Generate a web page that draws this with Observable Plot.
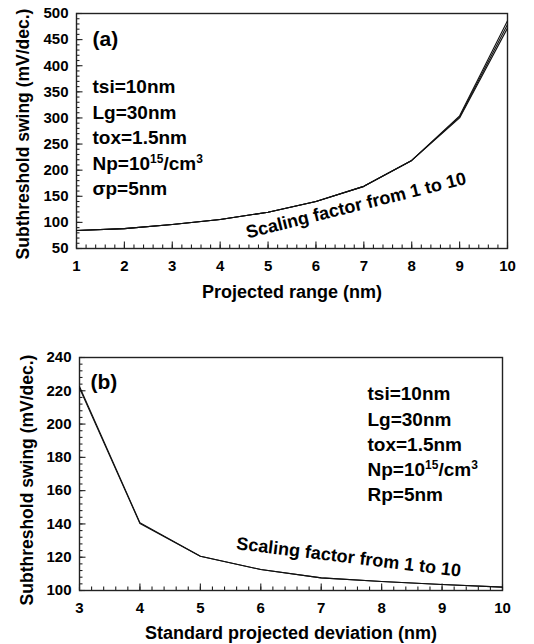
<!DOCTYPE html>
<html><head><meta charset="utf-8">
<script src="https://cdn.jsdelivr.net/npm/d3@7"></script>
<script src="https://cdn.jsdelivr.net/npm/@observablehq/plot@0.6"></script>
<style>
body{margin:0;background:#fff;}
#chart svg{display:block;}
</style></head><body><div id="chart"></div>
<script>
// ---------- data ----------
const rangeX = [1, 2, 3, 4, 5, 6, 7, 8, 9, 10];
const swingA1 = [84.5, 88, 96, 105.5, 119.5, 140, 169, 218.6, 304, 486];
const swingA2 = [84.5, 88, 96, 105.5, 119.5, 140, 169, 218.6, 302, 479];
const swingA3 = [84.5, 88, 96, 105.5, 119.5, 140, 169, 218.6, 300, 472];

const devX = [3, 4, 5, 6, 7, 8, 9, 10];
const swingB1 = [222.6, 140.7, 120.6, 112.6, 107.6, 105.4, 103.6, 102];
const swingB2 = [221.6, 140.3, 120.6, 112.6, 107.6, 105.4, 103.6, 102];

const ticksAX = [1, 2, 3, 4, 5, 6, 7, 8, 9, 10];
const ticksAY = [50, 100, 150, 200, 250, 300, 350, 400, 450, 500];
const ticksBX = [3, 4, 5, 6, 7, 8, 9, 10];
const ticksBY = [100, 120, 140, 160, 180, 200, 220, 240];

const paramsA = ["tsi=10nm", "Lg=30nm", "tox=1.5nm", "Np=10^15/cm^3", "σp=5nm"];
const paramsB = ["tsi=10nm", "Lg=30nm", "tox=1.5nm", "Np=10^15/cm^3", "Rp=5nm"];
const labelA = "(a)", labelB = "(b)";
const scalingLabel = "Scaling factor from 1 to 10";
const titleXA = "Projected range (nm)";
const titleXB = "Standard projected deviation (nm)";
const titleY = "Subthreshold swing (mV/dec.)";

// ---------- helpers ----------
const font = "'Liberation Sans', Arial, Helvetica, sans-serif";
const minorA_X = d3.range(1, 10.0001, 0.2);
const minorA_Y = d3.range(50, 500.0001, 10);
const minorB_X = d3.range(3, 10.0001, 0.2);
const minorB_Y = d3.range(100, 240.0001, 4);

const dataA = [swingA1, swingA2, swingA3].flatMap((s, k) => rangeX.map((x, i) => ({x, y: s[i], s: k})));
const dataB = [swingB1, swingB2].flatMap((s, k) => devX.map((x, i) => ({x, y: s[i], s: k})));

// inward tick marks drawn as short rules; lengths converted from pixels to data units
function ticks(xDom, yDom, wPx, hPx, tx, ty, mx, my) {
  const ux = (xDom[1] - xDom[0]) / wPx, uy = (yDom[1] - yDom[0]) / hPx;
  const st = {stroke: "#222", strokeWidth: 1.1};
  return [
    Plot.ruleX(mx, {x: d => d, y1: yDom[0], y2: yDom[0] + 3.5 * uy, ...st}),
    Plot.ruleX(tx, {x: d => d, y1: yDom[0], y2: yDom[0] + 6.5 * uy, ...st}),
    Plot.ruleY(my, {y: d => d, x1: xDom[0], x2: xDom[0] + 3.5 * ux, ...st}),
    Plot.ruleY(ty, {y: d => d, x1: xDom[0], x2: xDom[0] + 6.5 * ux, ...st}),
    Plot.axisX({ticks: tx, tickSize: 0, tickPadding: 12, label: null, tickFormat: d => String(d), fill: "black", fontSize: 15, fontWeight: "bold"}),
    Plot.axisY({ticks: ty, tickSize: 0, tickPadding: 8, label: null, tickFormat: d => String(d), fill: "black", fontSize: 15, fontWeight: "bold"})
  ];
}

function params(list, dx, dy0, step) {
  return list.map((t, i) => Plot.text([t], {
    text: d => d, frameAnchor: "top-left", dx, dy: dy0 + i * step,
    textAnchor: "start", lineAnchor: "middle", fontSize: 19, fontWeight: "bold", fill: "black"
  }));
}

function superscripts(svg) {
  d3.select(svg).selectAll("text").each(function () {
    const txt = this.textContent;
    if (txt.includes("^")) {
      const parts = txt.split(/\^(\d+)/);
      const t = d3.select(this);
      this.textContent = "";
      let raised = false;
      parts.forEach((p, i) => {
        if (p === "") { return; }
        if (i % 2 === 1) {
          t.append("tspan").attr("dy", -7).attr("font-size", 12).text(p);
          raised = true;
        } else {
          const sp = t.append("tspan").attr("font-size", 19).text(p);
          if (raised) { sp.attr("dy", 7); raised = false; }
        }
      });
    }
  });
  return svg;
}

const baseStyle = {fontFamily: font, fontSize: "15px", fontWeight: "bold", color: "black", background: "white", overflow: "visible"};

// ---------- panel (a) ----------
const plotA = Plot.plot({
  width: 534, height: 310,
  marginTop: 13, marginBottom: 62, marginLeft: 76, marginRight: 27,
  style: baseStyle,
  x: {domain: [1, 10]},
  y: {domain: [50, 500]},
  marks: [
    Plot.frame({stroke: "#222", strokeWidth: 1.4, fill: "none"}),
    ...ticks([1, 10], [50, 500], 534 - 76 - 27, 310 - 13 - 62, ticksAX, ticksAY, minorA_X, minorA_Y),
    Plot.line(dataA, {x: "x", y: "y", z: "s", stroke: "#111", strokeWidth: 1.1}),
    Plot.text([labelA], {text: d => d, frameAnchor: "top-left", dx: 16, dy: 25.8, textAnchor: "start", lineAnchor: "middle", fontSize: 21, fontWeight: "bold", fill: "black"}),
    ...params(paramsA, 16, 73.9, 25.5),
    Plot.text([scalingLabel], {text: d => d, frameAnchor: "top-left", dx: 279.6, dy: 192, rotate: -14, textAnchor: "middle", lineAnchor: "middle", fontSize: 18, fontWeight: "bold", fill: "black"}),
    Plot.text([titleXA], {text: d => d, frameAnchor: "bottom", dy: 44, textAnchor: "middle", lineAnchor: "middle", fontSize: 18, fontWeight: "bold", fill: "black"}),
    Plot.text([titleY], {text: d => d, frameAnchor: "left", dx: -53.4, dy: 3, rotate: -90, textAnchor: "middle", lineAnchor: "middle", fontSize: 17.5, fontWeight: "bold", fill: "black"})
  ]
});

// ---------- panel (b) ----------
const plotB = Plot.plot({
  width: 534, height: 334,
  marginTop: 47, marginBottom: 54, marginLeft: 79, marginRight: 32,
  style: baseStyle,
  x: {domain: [3, 10]},
  y: {domain: [100, 240]},
  marks: [
    Plot.frame({stroke: "#222", strokeWidth: 1.4, fill: "none"}),
    ...ticks([3, 10], [100, 240], 534 - 79 - 32, 334 - 47 - 54, ticksBX, ticksBY, minorB_X, minorB_Y),
    Plot.line(dataB, {x: "x", y: "y", z: "s", stroke: "#111", strokeWidth: 1.1}),
    Plot.text([labelB], {text: d => d, frameAnchor: "top-left", dx: 11, dy: 24.3, textAnchor: "start", lineAnchor: "middle", fontSize: 21, fontWeight: "bold", fill: "black"}),
    ...params(paramsB, 288, 36.9, 25.2),
    Plot.text([scalingLabel], {text: d => d, frameAnchor: "top-left", dx: 269.2, dy: 199.7, rotate: 7, textAnchor: "middle", lineAnchor: "middle", fontSize: 18, fontWeight: "bold", fill: "black"}),
    Plot.text([titleXB], {text: d => d, frameAnchor: "bottom", dy: 43, textAnchor: "middle", lineAnchor: "middle", fontSize: 18, fontWeight: "bold", fill: "black"}),
    Plot.text([titleY], {text: d => d, frameAnchor: "left", dx: -52.4, dy: 6, rotate: -90, textAnchor: "middle", lineAnchor: "middle", fontSize: 17.5, fontWeight: "bold", fill: "black"})
  ]
});

const chart = document.getElementById("chart");
chart.appendChild(superscripts(plotA));
chart.appendChild(superscripts(plotB));
</script>
</body></html>
